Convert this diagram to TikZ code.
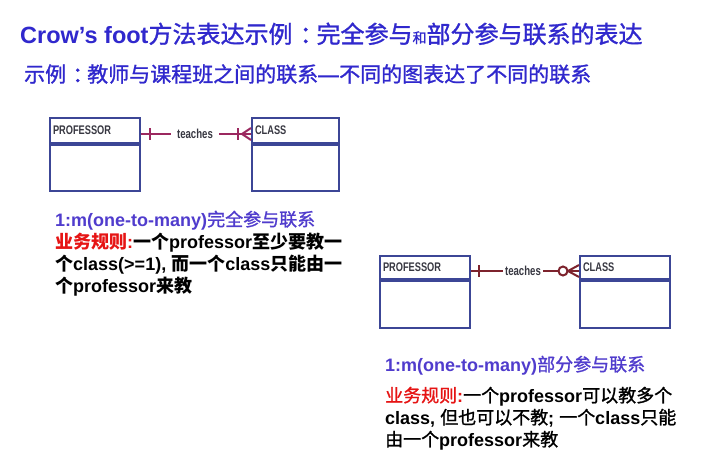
\documentclass[tikz,border=0pt]{standalone}
\usepackage{fontspec}
\setmainfont{Liberation Sans}
\newfontfamily\cjkfont{Noto Sans CJK SC}
\newfontfamily\cjkmed[FakeBold=1.2]{Noto Sans CJK SC}
\newfontfamily\narrowfont[FakeStretch=0.74]{Liberation Sans}
\usetikzlibrary{calc}

\definecolor{titleblue}{RGB}{48,40,205}
\definecolor{headblue}{RGB}{80,60,205}
\definecolor{rulered}{RGB}{230,20,20}
\definecolor{boxblue}{RGB}{60,70,150}
\definecolor{linkmag}{RGB}{155,40,95}
\definecolor{linkred}{RGB}{125,35,45}
\definecolor{labelgray}{RGB}{55,55,65}

% regular, medium and bold Chinese runs
\newcommand\zh[1]{{\cjkfont\mdseries #1}}
\newcommand\zhm[1]{{\cjkmed\mdseries #1}}
\newcommand\zhb[1]{{\cjkfont\bfseries #1}}
% full-width colon with centred spacing
\newcommand\zhcolon{\hspace{0.3em}\zhm{：}\hspace{-0.3em}}

\begin{document}
\begin{tikzpicture}[x=1pt,y=-1pt,
  txt/.style={anchor=base west, inner sep=0pt},
  entityhead/.style={draw=boxblue, line width=2pt, anchor=north west,
    minimum width=90pt, text width=84pt, inner xsep=3pt, align=left,
    text=labelgray, font=\narrowfont\bfseries\fontsize{12.5}{12.5}\selectfont},
  entitybody/.style={draw=boxblue, line width=2pt, anchor=north west,
    minimum width=90pt, inner sep=0pt},
  rellabel/.style={inner xsep=6pt, inner ysep=2pt, text=labelgray,
    font=\narrowfont\bfseries\fontsize{13}{13}\selectfont},
  linktop/.style={draw=linkmag, line width=2pt},
  linkbot/.style={draw=linkred, line width=2pt},
  bodytext/.style={txt, font=\bfseries\fontsize{18}{22}\selectfont}
]
\useasboundingbox (0,0) rectangle (721,456);
\fill[white] (0,0) rectangle (721,456);

% headings
\node[txt, text=titleblue, font=\fontsize{24}{24}\selectfont] (title) at (20,43)
  {{\bfseries\fontsize{23.5}{24}\selectfont Crow’s foot}\zhm{方法表达示例}\zhcolon\zhm{完全参与}{\cjkmed\fontsize{14}{14}\selectfont 和}\zhm{部分参与联系的表达}};
\node[txt, text=titleblue, font=\fontsize{21}{21}\selectfont] (subtitle) at (24,82)
  {\zhm{示例}\zhcolon\zhm{教师与课程班之间的联系}{\bfseries —}\zhm{不同的图表达了不同的联系}};

% ---- total participation: PROFESSOR -|---|<- CLASS ----
\node[entityhead, minimum height=25pt] (p1h) at (49,117) {PROFESSOR};
\node[entitybody, minimum height=46pt] (p1b) at (p1h.south west) {};
\node[entityhead, minimum height=25pt, minimum width=87pt, text width=81pt] (c1h) at (251,117) {CLASS};
\node[entitybody, minimum height=46pt, minimum width=87pt] (c1b) at (c1h.south west) {};
\node[rellabel] (t1) at (195,134) {teaches};

\draw[linktop] (p1h.east |- t1) -- (t1.west);
\draw[linktop] (t1.east) -- (c1h.west |- t1);
\draw[linktop] ($(p1h.east |- t1)+(9,-6)$) -- ++(0,12);
\draw[linktop] ($(c1h.west |- t1)+(-13,-6)$) -- ++(0,12);
\draw[linktop] ($(c1h.west |- t1)+(0,-6)$) -- ($(c1h.west |- t1)+(-9,0)$) -- ($(c1h.west |- t1)+(0,6)$);

% ---- partial participation: PROFESSOR -|---o<- CLASS ----
\node[entityhead, minimum height=23pt] (p2h) at (379,255) {PROFESSOR};
\node[entitybody, minimum height=47pt] (p2b) at (p2h.south west) {};
\node[entityhead, minimum height=23pt] (c2h) at (579,255) {CLASS};
\node[entitybody, minimum height=47pt] (c2b) at (c2h.south west) {};
\node[rellabel, inner xsep=2pt] (t2) at (523,271) {teaches};

\draw[linkbot] (p2h.east |- t2) -- (t2.west);
\draw[linkbot] (t2.east) -- (c2h.west |- t2);
\draw[linkbot] ($(p2h.east |- t2)+(8,-6)$) -- ++(0,12);
\draw[linkbot] ($(c2h.west |- t2)+(0,-6)$) -- ($(c2h.west |- t2)+(-11,0)$) -- ($(c2h.west |- t2)+(0,6)$);
\draw[linkbot, fill=white] ($(c2h.west |- t2)+(-16,0)$) circle (4.5);

% ---- rule text, left ----
\node[bodytext, text=headblue] (r1a) at (55,226) {1:m(one-to-many)\zhm{完全参与联系}};
\node[bodytext] (r1b) at (55,248) {{\color{rulered}\zhb{业务规则}:}\zhb{一个}professor\zhb{至少要教一}};
\node[bodytext] (r1c) at (55,270) {\zhb{个}class(>=1), \zhb{而一个}class\zhb{只能由一}};
\node[bodytext] (r1d) at (55,292) {\zhb{个}professor\zhb{来教}};

% ---- rule text, right ----
\node[bodytext, text=headblue] (r2a) at (385,371) {1:m(one-to-many)\zhm{部分参与联系}};
\node[bodytext] (r2b) at (385,402) {{\color{rulered}\zhm{业务规则}:}\zhm{一个}professor\zhm{可以教多个}};
\node[bodytext] (r2c) at (385,424) {class, \zhm{但也可以不教}; \zhm{一个}class\zhm{只能}};
\node[bodytext] (r2d) at (385,446) {\zhm{由一个}professor\zhm{来教}};
\end{tikzpicture}
\end{document}
